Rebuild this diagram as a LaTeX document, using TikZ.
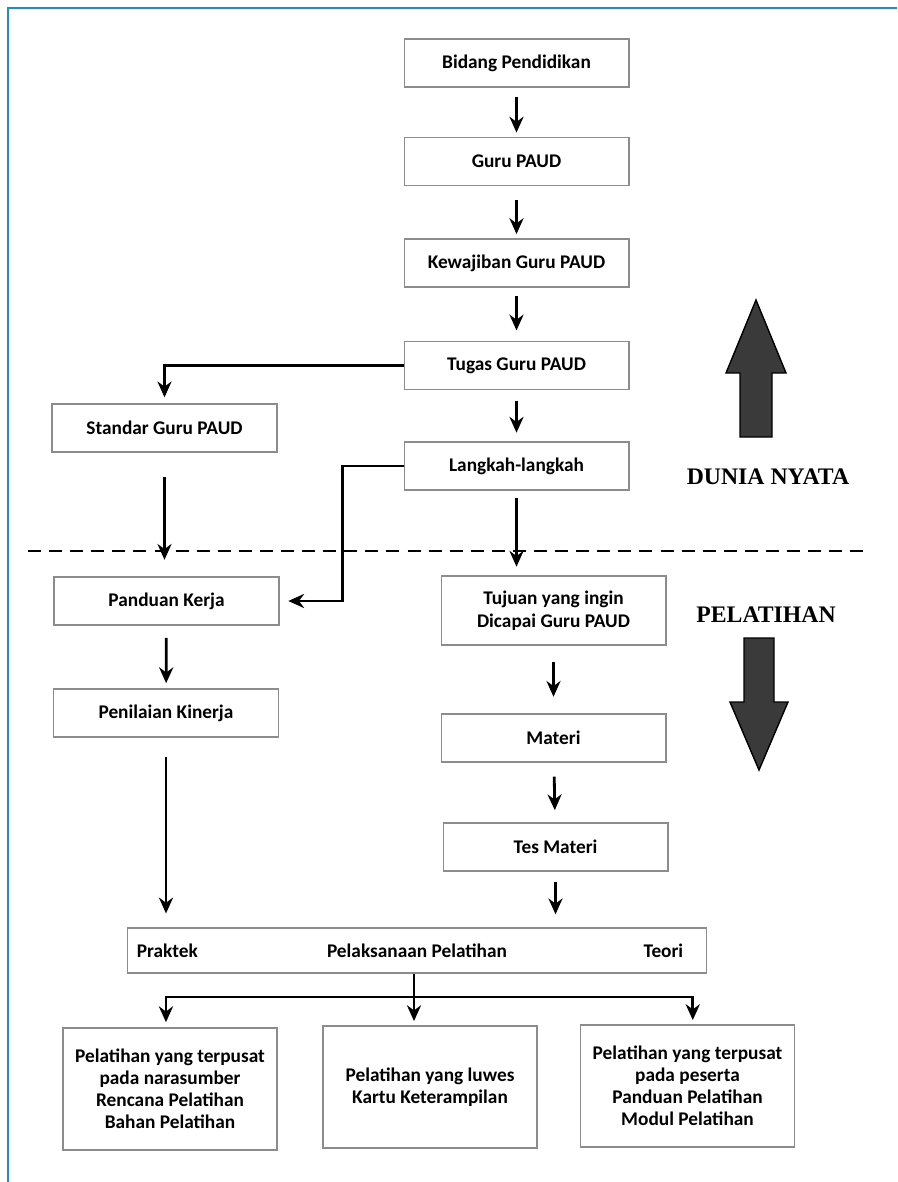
\documentclass[tikz,border=0pt]{standalone}
\usepackage{fontspec}
\setmainfont{Carlito}
\newfontfamily\judulfont{Liberation Serif}
\usetikzlibrary{arrows.meta}
\definecolor{bingkai}{RGB}{30,136,229}
\definecolor{blokabu}{RGB}{58,58,58}

\begin{document}
\begin{tikzpicture}[x=0.02cm, y=-0.02cm,
  kotak/.style={draw=black!45, line width=0.6pt, fill=white, align=center,
    inner sep=0pt, font=\fontsize{11}{13}\selectfont\bfseries},
  atas/.style={kotak, minimum width=4.5cm, minimum height=0.96cm},
  bawah/.style={kotak, minimum width=4.28cm, minimum height=2.44cm,
    font=\fontsize{11}{12.6}\selectfont\bfseries},
  teks/.style={font=\fontsize{11}{13}\selectfont\bfseries, inner sep=0pt},
  panah/.style={line width=1.6pt, -{Stealth[length=9pt,width=8pt]}},
  garis/.style={line width=1.6pt},
  judul/.style={font=\judulfont\fontsize{13.5}{16}\selectfont\bfseries},
  blok/.style={draw=black, line width=0.8pt, fill=blokabu, line join=miter}]

	\useasboundingbox (0,0) rectangle (897,1182);
	\draw[bingkai, line width=1.2pt] (8,1182) -- (8,8) -- (897,8);

	\node[atas] (bidang) at (516.5,63) {Bidang Pendidikan};
	\node[atas] (guru) at (516.5,161.5) {Guru PAUD};
	\node[atas] (kewajiban) at (516.5,263) {Kewajiban Guru PAUD};
	\node[atas] (tugas) at (516.5,365.5) {Tugas Guru PAUD};
	\node[atas] (langkah) at (516.5,466) {Langkah-langkah};
	\node[atas] (standar) at (164.5,428) {Standar Guru PAUD};

	\draw[line width=1.7pt, dash pattern=on 7.4pt off 4.6pt] (28,551) -- (865,551);

	\node[atas] (panduan) at (166.5,601) {Panduan Kerja};
	\node[atas] (penilaian) at (166,713) {Penilaian Kinerja};
	\node[atas, minimum height=1.38cm] (tujuan) at (553.5,610.5) {Tujuan yang ingin\\ Dicapai Guru PAUD};
	\node[atas] (materi) at (553.5,738) {Materi};
	\node[atas] (tes) at (555.5,847) {Tes Materi};

	\node[kotak, minimum width=11.6cm, minimum height=0.9cm] (pelaksanaan) at (417,950.5) {Pelaksanaan Pelatihan};
	\node[teks, anchor=west] (praktek) at ([xshift=5.7pt]pelaksanaan.west) {Praktek};
	\node[teks, anchor=east] (teori) at ([xshift=-13.6pt]pelaksanaan.east) {Teori};

	\node[bawah] (narasumber) at (170,1089) {Pelatihan yang terpusat\\ pada narasumber\\ Rencana Pelatihan\\ Bahan Pelatihan};
	\node[bawah] (luwes) at (430,1087) {Pelatihan yang luwes\\ Kartu Keterampilan};
	\node[bawah] (peserta) at (687.5,1086) {Pelatihan yang terpusat\\ pada peserta\\ Panduan Pelatihan\\ Modul Pelatihan};

	\draw[panah, shorten <=5.5pt, shorten >=2.5pt] (bidang) -- (guru);
	\draw[panah, shorten <=8pt, shorten >=2.5pt] (guru) -- (kewajiban);
	\draw[panah, shorten <=5pt, shorten >=6pt] (kewajiban) -- (tugas);
	\draw[panah, shorten <=6pt, shorten >=5pt] (tugas) -- (langkah);
	\draw[panah, shorten >=3.5pt] (tugas.west) -| (standar.north);
	\draw[panah, shorten >=5pt] (langkah.west) -- ++(-61,0) |- (panduan.east);
	\draw[panah, shorten <=4.5pt, shorten >=5pt] (langkah.south) -- (langkah.south |- tujuan.north);
	\draw[panah, shorten <=14pt, shorten >=9.5pt] (standar.south) -- (standar.south |- panduan.north);
	\draw[panah, shorten <=7pt, shorten >=3pt] (panduan) -- (penilaian);
	\draw[panah, shorten <=11pt, shorten >=8pt] (penilaian.south) -- (penilaian.south |- pelaksanaan.north);
	\draw[panah, shorten <=9.5pt, shorten >=9.5pt] (tujuan) -- (materi);
	\draw[panah, shorten <=8pt, shorten >=7pt] (materi) -- (tes);
	\draw[panah, shorten <=6pt, shorten >=7.5pt] (tes.south) -- (tes.south |- pelaksanaan.north);

	\coordinate (cabang) at (414,997);
	\draw[garis] (pelaksanaan.south -| cabang) -- (cabang);
	\draw[panah, shorten >=3pt] (cabang) -| ([xshift=-2.3pt]narasumber.north);
	\draw[panah, shorten >=2.5pt] (cabang) -- (cabang |- luwes.north);
	\draw[panah, shorten >=2.5pt] (cabang) -| ([xshift=3pt]peserta.north);

	\filldraw[blok] (740,437) -- (740,373) -- (726,373) -- (756,300) -- (786,373) -- (772,373) -- (772,437) -- cycle;
	\node[judul] (dunia) at (768,477) {DUNIA NYATA};
	\node[judul] (pelatihan) at (766,615) {PELATIHAN};
	\filldraw[blok] (744,638) -- (774,638) -- (774,702) -- (788,702) -- (759,770) -- (730,702) -- (744,702) -- cycle;

\end{tikzpicture}
\end{document}
